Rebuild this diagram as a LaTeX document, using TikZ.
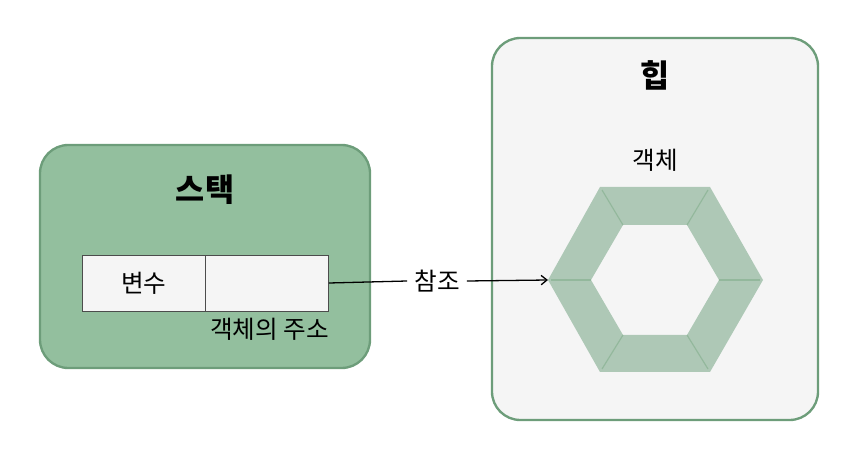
\documentclass[tikz,border=0pt]{standalone}
\usepackage{fontspec}
\usepackage{tikz}
\usetikzlibrary{positioning, arrows.meta}
\newfontfamily\kofont{Noto Sans CJK KR}
\definecolor{stackfill}{HTML}{93BF9E}
\definecolor{boxline}{HTML}{6D9D7A}
\definecolor{heapfill}{HTML}{F5F5F5}
\definecolor{hexfill}{HTML}{AEC8B6}
\definecolor{hexseam}{HTML}{93B89C}

\begin{document}
\begin{tikzpicture}[x=0.03cm, y=-0.03cm,
    area/.style={draw=boxline, line width=2pt, rounded corners=0.85cm},
    cell/.style={draw=black!70, fill=heapfill, minimum width=123*0.03cm, minimum height=56*0.03cm, inner sep=0pt},
    title/.style={font=\kofont\bfseries\fontsize{27}{30}\selectfont},
    label/.style={font=\kofont\fontsize{21}{24}\selectfont, inner sep=2pt}]
        \useasboundingbox (0,0) rectangle (862,460);

        % 스택 영역
        \draw[area, fill=stackfill] (40,145) rectangle (370,368);
        \node[title] (stacktitle) at (205,190) {스택};
        \node[cell, anchor=west] (var) at (82,283) {};
        \node[cell, right=0pt of var] (addr) {};
        \node[label] at (var.center) {변수};
        \node[label, below left=4pt and -2pt of addr.south east] (addrlabel) {객체의 주소};

        % 힙 영역
        \draw[area, fill=heapfill] (492,38) rectangle (818,420);
        \node[title] (heaptitle) at (655,75) {힙};
        \node[label] (objlabel) at (655,160) {객체};

        % 객체 (육각형)
        \fill[hexfill, even odd rule]
            (548,280) -- (600,187) -- (710,187) -- (763,280) -- (710,372) -- (600,372) -- cycle
            (591,280) -- (623,225) -- (687,225) -- (719,280) -- (687,335) -- (623,335) -- cycle;
        \foreach \xa/\ya/\xb/\yb in {551/280/591/280, 602/190/623/225, 708/190/687/225,
                                     760/280/719/280, 708/369/687/335, 602/369/623/335}
            \draw[hexseam, line width=1pt] (\xa,\ya) -- (\xb,\yb);
        \coordinate (obj) at (548,280);

        % 참조
        \node[label, inner sep=6pt] (ref) at (437,281) {참조};
        \draw[line width=1.1pt] (addr.east) -- (ref.west);
        \draw[line width=1.1pt, -{Straight Barb[length=5pt, width=8pt]}] (ref.east) -- (obj);

    \end{tikzpicture}
\end{document}
